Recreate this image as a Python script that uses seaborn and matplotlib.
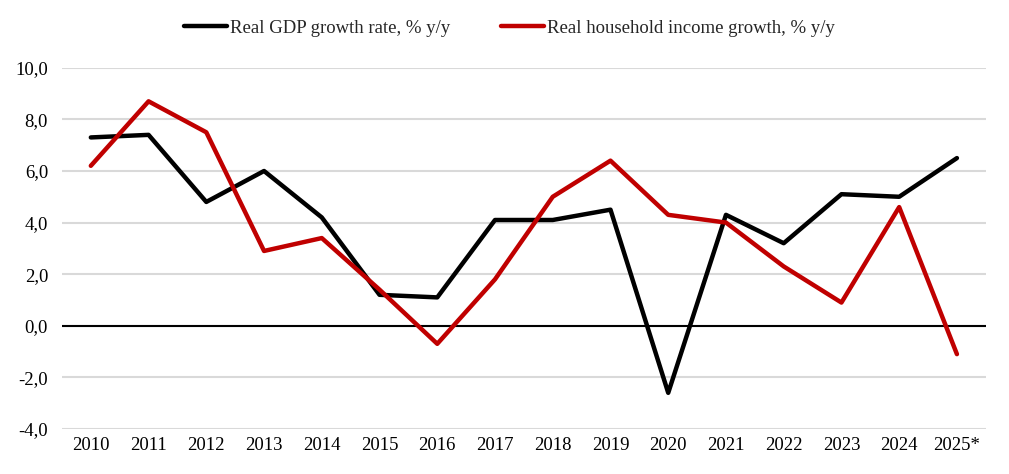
import pandas as pd
import matplotlib
matplotlib.use("Agg")
import matplotlib.pyplot as plt
import seaborn as sns

# data
years = ["2010", "2011", "2012", "2013", "2014", "2015", "2016", "2017",
         "2018", "2019", "2020", "2021", "2022", "2023", "2024", "2025*"]
gdp_growth = [7.3, 7.4, 4.8, 6.0, 4.2, 1.2, 1.1, 4.1,
              4.1, 4.5, -2.6, 4.3, 3.2, 5.1, 5.0, 6.5]
income_growth = [6.2, 8.7, 7.5, 2.9, 3.4, 1.4, -0.7, 1.8,
                 5.0, 6.4, 4.3, 4.0, 2.3, 0.9, 4.6, -1.1]

gdp_label = "Real GDP growth rate, % y/y"
income_label = "Real household income growth, % y/y"

df = pd.concat([
    pd.DataFrame({"year": years, "value": gdp_growth, "series": gdp_label}),
    pd.DataFrame({"year": years, "value": income_growth, "series": income_label}),
])

sns.set_style("white")
plt.rcParams["font.family"] = ["Liberation Serif", "DejaVu Serif"]

fig = plt.figure(figsize=(10.09, 4.74), dpi=100)
ax = fig.add_axes([0.0614, 0.095, 0.9156, 0.762])

sns.lineplot(data=df, x="year", y="value", hue="series",
             palette={gdp_label: "black", income_label: "#C00000"},
             linewidth=3.2, sort=False, ax=ax, zorder=3)

ax.set_ylim(-4, 10)
ax.set_xlim(-0.5, len(years) - 0.5)
ax.set_yticks(range(-4, 11, 2))
ax.set_yticklabels([f"{v:.1f}".replace(".", ",") for v in range(-4, 11, 2)])
ax.grid(axis="y", color="#d9d9d9", linewidth=1.5, zorder=0)
ax.axhline(0, color="black", linewidth=1.5, zorder=2)
ax.set_xlabel("")
ax.set_ylabel("")
for s in ax.spines.values():
    s.set_visible(False)
ax.tick_params(axis="both", length=0, labelsize=13.5, colors="black")
ax.tick_params(axis="x", pad=6)
ax.tick_params(axis="y", pad=10)

ax.legend(loc="center", bbox_to_anchor=(0.484, 1.11), ncol=2, frameon=False,
          fontsize=13.5, handlelength=2.3, handletextpad=0.15, columnspacing=2.7)

fig.savefig("out.png", dpi=100)
